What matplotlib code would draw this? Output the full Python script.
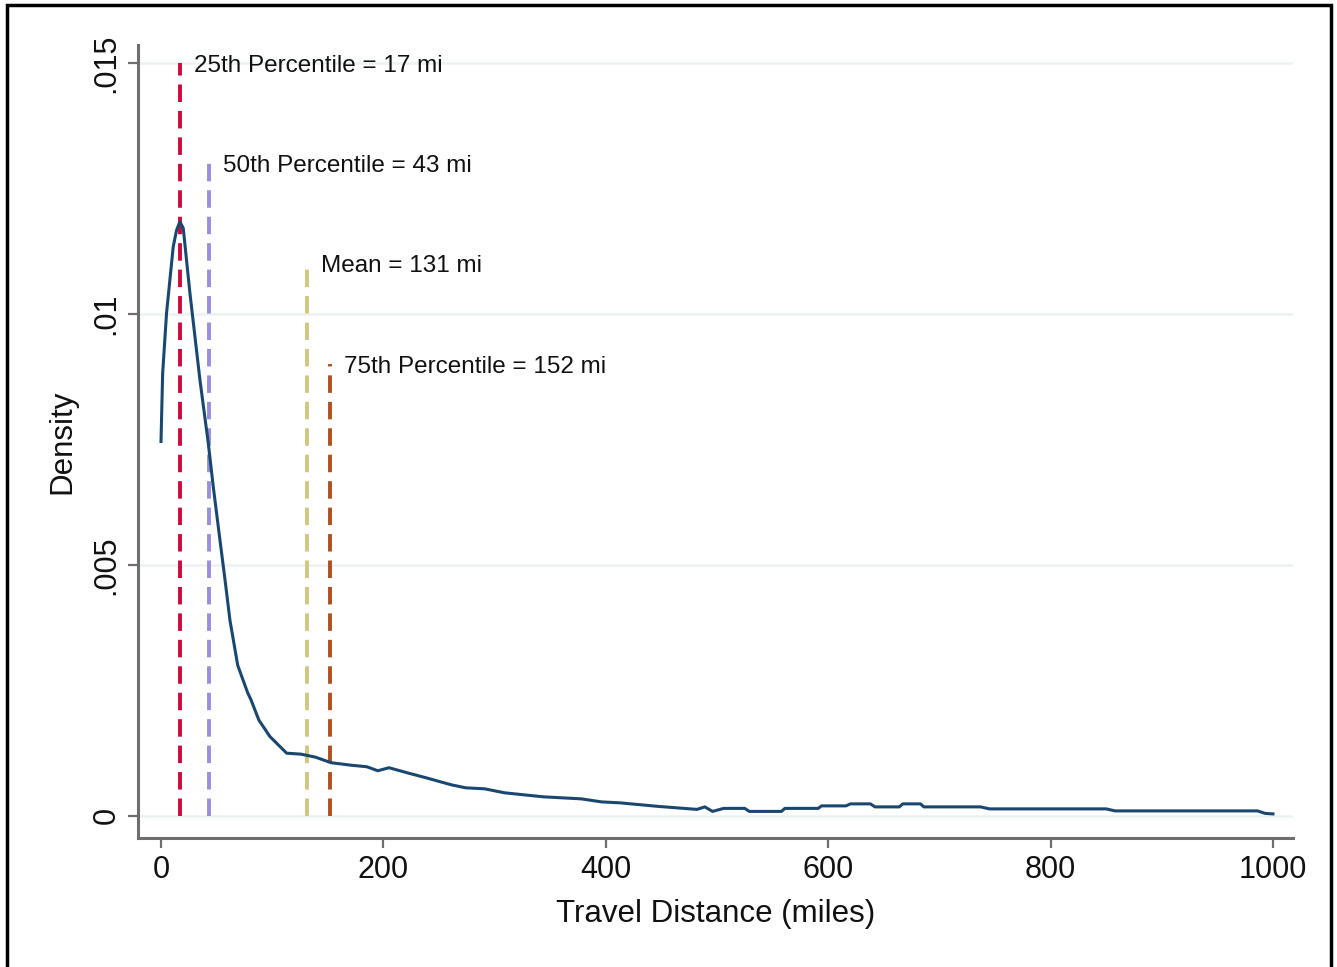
import matplotlib
matplotlib.use("Agg")
import matplotlib.pyplot as plt
from matplotlib.patches import Rectangle

plt.rcParams['font.family'] = ['Liberation Sans', 'DejaVu Sans']

# Kernel density curve (travel distance in miles, density)
distance = [0, 1.5, 5, 11, 14, 17, 20, 26, 35, 42.5, 47, 53, 57.6, 62, 69, 78, 81, 88, 98,
            113, 126, 139, 153, 171, 185, 195, 205, 223, 240, 261, 274, 291, 309, 344,
            378, 396, 413, 447, 482, 489, 496, 506, 525, 529, 558, 561, 591, 594, 616,
            620, 638, 642, 664, 667, 683, 686, 737, 745, 850, 858, 986, 993, 1000]
density = [0.00746, 0.00882, 0.01002, 0.01134, 0.01167, 0.01184, 0.01171, 0.01042,
           0.00869, 0.00743, 0.00656, 0.0055, 0.0047, 0.0039, 0.0030, 0.00245, 0.00231,
           0.00191, 0.00158, 0.00125, 0.00123, 0.00117, 0.00106, 0.00101, 0.00098,
           0.0009, 0.00096, 0.00085, 0.00075, 0.00062, 0.00056, 0.00054, 0.00046,
           0.00038, 0.00034, 0.00028, 0.00026, 0.00019, 0.00013, 0.00018, 0.00009,
           0.00015, 0.00015, 0.00009, 0.00009, 0.00015, 0.00015, 0.0002, 0.0002,
           0.00024, 0.00024, 0.00018, 0.00018, 0.00024, 0.00024, 0.00018, 0.00018,
           0.00014, 0.00014, 0.0001, 0.0001, 0.00005, 0.00004]

# Reference lines
ref_labels = ["25th Percentile = 17 mi", "50th Percentile = 43 mi",
              "Mean = 131 mi", "75th Percentile = 152 mi"]
ref_x = [17, 43, 131, 152]
ref_top = [0.015, 0.013, 0.011, 0.009]
ref_colors = ["#cc0a3c", "#9a8ee0", "#d2c77e", "#b0501e"]

xticks = [0, 200, 400, 600, 800, 1000]
yticks = [0, 0.005, 0.01, 0.015]
ytick_labels = ["0", ".005", ".01", ".015"]

fig = plt.figure(figsize=(13.37, 9.67), dpi=100)
ax = fig.add_axes([0.1032, 0.1334, 0.8639, 0.8201])

for yv in yticks:
    ax.axhline(yv, color="#eaf2f3", lw=1.8, zorder=0)

for xv, top, c in zip(ref_x, ref_top, ref_colors):
    ax.plot([xv, xv], [0, top], color=c, lw=2.8, dashes=(4.5, 2.3), zorder=2)

ax.plot(distance, density, color="#1a476f", lw=2.2, zorder=3)

for xv, top, lab in zip(ref_x, ref_top, ref_labels):
    ax.text(xv + 13, top - 0.00005, lab, fontsize=17.5, va="center", ha="left",
            color="#111111")

ax.set_xlim(-20.7, 1018)
ax.set_ylim(-0.00044, 0.01536)
ax.set_xticks(xticks)
ax.set_xticklabels([str(v) for v in xticks])
ax.set_yticks(yticks)
ax.set_yticklabels(ytick_labels, rotation=90, va="center")

for s in ["top", "right"]:
    ax.spines[s].set_visible(False)
for s in ["left", "bottom"]:
    ax.spines[s].set_color("#6e6e6e")
    ax.spines[s].set_linewidth(2.2)

ax.tick_params(axis="both", direction="out", length=7, width=1.6, color="#6e6e6e",
               labelsize=22, labelcolor="#111111", pad=5)
ax.set_xlabel("Travel Distance (miles)", fontsize=22.5, color="#111111", labelpad=10)
ax.set_ylabel("Density", fontsize=22.5, color="#111111", labelpad=10)

fig.patches.append(Rectangle((7 / 1337, -0.01), (1331 - 7) / 1337, 1 - 5 / 967 + 0.01,
                             transform=fig.transFigure, fill=False,
                             edgecolor="black", lw=2.5, zorder=10))

fig.savefig("out.png", dpi=100)
